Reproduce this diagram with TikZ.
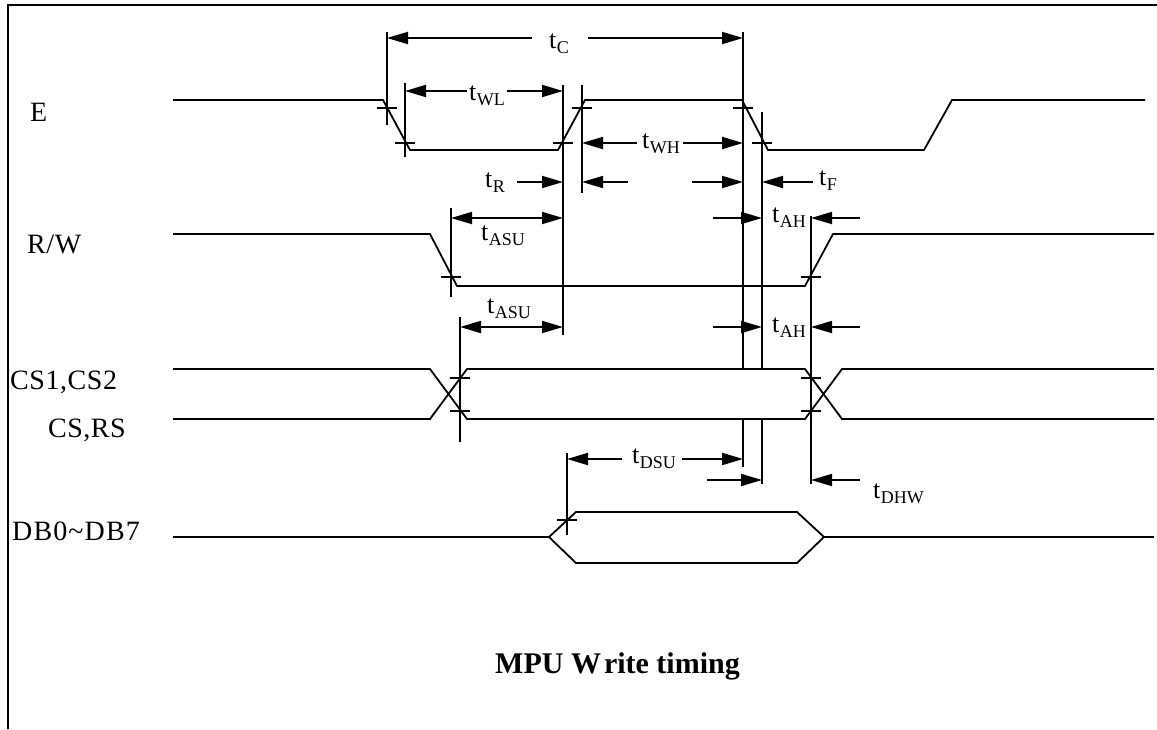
\documentclass[tikz,border=0pt]{standalone}
\usepackage{fontspec}
\setmainfont{Liberation Serif}
\newfontfamily\labfont[LetterSpace=2]{Liberation Serif}
\newfontfamily\dbfont[LetterSpace=4]{Liberation Serif}
\usetikzlibrary{arrows.meta}
\newcommand\tsig[1]{t\kern0.5pt\lower5pt\hbox{\fontsize{18}{18}\selectfont #1}}
\tikzset{
  sig/.style={line width=1.8pt, line join=miter},
  guide/.style={line width=1.8pt},
  tick/.style={line width=1.5pt},
  dimarr/.style={line width=1.8pt, -{Triangle[length=21pt,width=12pt]}},
  dimboth/.style={line width=1.8pt, {Triangle[length=21pt,width=12pt]}-{Triangle[length=21pt,width=12pt]}},
  tlab/.style={inner sep=0pt, anchor=base, font=\fontsize{26}{28}\selectfont},
  siglab/.style={inner sep=0pt, anchor=base west, font=\labfont\fontsize{28}{30}\selectfont},
  title/.style={inner sep=0pt, anchor=base west, font=\bfseries\fontsize{30}{32}\selectfont}
}
\begin{document}
\begin{tikzpicture}[x=1pt,y=-1pt]
\useasboundingbox (0,0) rectangle (1157,729);
\fill[white] (0,0) rectangle (1157,729);
% frame
\draw[line width=2.2pt] (8,729) -- (8,5) -- (1157,5);

% signal labels
\node[siglab] (lE) at (30,121) {E};
\node[siglab] (lRW) at (27,253) {R/W};
\node[siglab] (lCS1) at (10,389) {CS1,CS2};
\node[siglab, anchor=base east] (lCS2) at (126,437) {CS,RS};
\node[siglab, font=\dbfont\fontsize{28}{30}\selectfont] (lDB) at (12,540) {DB0\char126\relax DB7};

% waveforms
\draw[sig] (173,100) -- (383,100) -- (410,150) -- (558,150) -- (585,100) -- (742,100) -- (768,150) -- (924,150) -- (952,100) -- (1145,100);
\draw[sig] (173,234) -- (430,234) -- (457,286) -- (805,286) -- (833,234) -- (1154,234);
\draw[sig] (173,369) -- (430,369) -- (467,419) -- (805,419) -- (842,369) -- (1154,369);
\draw[sig] (173,419) -- (430,419) -- (467,369) -- (805,369) -- (842,419) -- (1154,419);
\draw[sig] (173,537) -- (549,537) -- (576,512) -- (797,512) -- (824,537) -- (1154,537);
\draw[sig] (549,537) -- (576,563) -- (797,563) -- (824,537);

% guide lines
\draw[guide] (387,32) -- (387,125);
\draw[guide] (405,83) -- (405,157);
\draw[guide] (563,85) -- (563,335);
\draw[guide] (582,85) -- (582,193);
\draw[guide] (743,32) -- (743,369) (743,419) -- (743,467);
\draw[guide] (762,112) -- (762,369) (762,419) -- (762,484);
\draw[guide] (451,208) -- (451,297);
\draw[guide] (460,317) -- (460,442);
\draw[guide] (811,216) -- (811,484);
\draw[guide] (567,453) -- (567,535);

% ticks
\foreach \x/\y in {387/108, 405/143, 563/143, 582/108, 743/108, 762/143, 451/277, 811/277, 460/378, 460/411, 811/378, 811/411, 567/520}
  \draw[tick] (\x-10,\y) -- (\x+10,\y);

% t_C
\node[tlab] (tC) at (559,48) {\tsig{C}};
\draw[dimarr] (532,38) -- (387,38);
\draw[dimarr] (588,38) -- (743,38);
% t_WL
\node[tlab] (tWL) at (487,100) {\tsig{WL}};
\draw[dimarr] (467,91) -- (405,91);
\draw[dimarr] (507,91) -- (563,91);
% t_WH
\node[tlab] (tWH) at (661,148) {\tsig{WH}};
\draw[dimarr] (637,143) -- (582,143);
\draw[dimarr] (683,143) -- (743,143);
% t_R, t_F row
\node[tlab] (tR) at (495,187) {\tsig{R}};
\draw[dimarr] (517,182) -- (563,182);
\draw[dimarr] (628,182) -- (582,182);
\draw[dimarr] (692,182) -- (743,182);
\draw[dimarr] (813,182) -- (762,182);
\node[tlab] (tF) at (828,185) {\tsig{F}};
% t_ASU / t_AH row 1
\draw[dimboth] (451,218) -- (563,218);
\node[tlab] (tASU1) at (503,240) {\tsig{ASU}};
\draw[dimarr] (713,218) -- (762,218);
\node[tlab] (tAH1) at (789,222) {\tsig{AH}};
\draw[dimarr] (860,218) -- (811,218);
% t_ASU / t_AH row 2
\node[tlab] (tASU2) at (509,313) {\tsig{ASU}};
\draw[dimboth] (460,327) -- (563,327);
\draw[dimarr] (713,327) -- (762,327);
\node[tlab] (tAH2) at (789,332) {\tsig{AH}};
\draw[dimarr] (860,327) -- (811,327);
% t_DSU
\node[tlab] (tDSU) at (654,463) {\tsig{DSU}};
\draw[dimarr] (622,459) -- (567,459);
\draw[dimarr] (682,459) -- (743,459);
% t_DHW
\draw[dimarr] (707,480) -- (762,480);
\draw[dimarr] (860,480) -- (811,480);
\node[tlab, anchor=base west] (tDHW) at (873,498) {\tsig{DHW}};

% title
\node[title] (ttl) at (495,673) {MPU W\kern3pt rite timing};
\end{tikzpicture}
\end{document}
